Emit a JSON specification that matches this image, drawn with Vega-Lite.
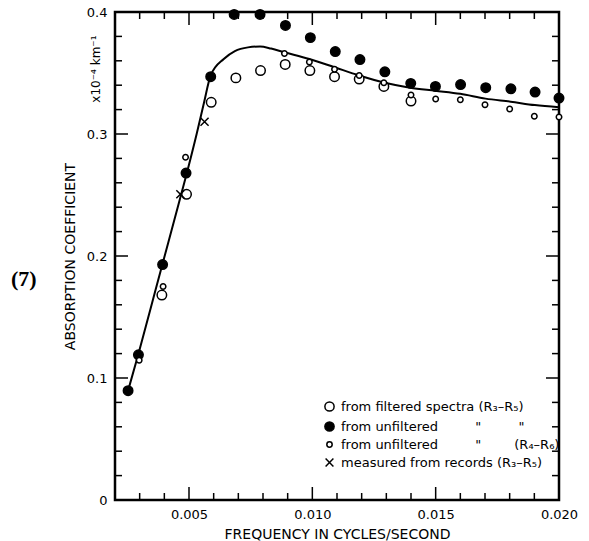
{
  "$schema": "https://vega.github.io/schema/vega-lite/v6.json",
  "width": 444,
  "height": 488,
  "autosize": {"type": "none"},
  "padding": {"left": 115, "top": 12, "right": 30, "bottom": 41},
  "title": {"text": "(7)", "orient": "left", "angle": 0, "align": "right", "baseline": "middle", "anchor": "middle", "font": "Liberation Serif", "fontSize": 22, "fontWeight": "bold", "color": "black", "offset": 1, "dy": 23},
  "config": {
    "view": {"stroke": "black", "strokeWidth": 2.5},
    "axis": {"domain": false, "grid": false, "labelFont": "DejaVu Sans", "labelFontSize": 13, "labelColor": "black", "titleFont": "DejaVu Sans", "titleFontSize": 14, "titleFontWeight": "normal", "titleColor": "black", "labelFlush": false},
    "legend": {"labelFont": "DejaVu Sans", "labelFontSize": 13, "labelColor": "black", "rowPadding": 3, "labelOffset": 5, "labelLimit": 400, "symbolSize": 85}
  },
  "datasets": {
    "curve": [
      {"f": 0.00253, "v": 0.0896}, {"f": 0.00294, "v": 0.119}, {"f": 0.00343, "v": 0.156}, {"f": 0.00392, "v": 0.193},
      {"f": 0.00441, "v": 0.230}, {"f": 0.0049, "v": 0.267}, {"f": 0.00531, "v": 0.300}, {"f": 0.0056, "v": 0.325},
      {"f": 0.00588, "v": 0.348}, {"f": 0.00641, "v": 0.3615}, {"f": 0.00686, "v": 0.368}, {"f": 0.00739, "v": 0.371},
      {"f": 0.00788, "v": 0.3717}, {"f": 0.00833, "v": 0.370}, {"f": 0.00887, "v": 0.367}, {"f": 0.00988, "v": 0.3615},
      {"f": 0.0109, "v": 0.3547}, {"f": 0.0119, "v": 0.348}, {"f": 0.01294, "v": 0.342}, {"f": 0.01396, "v": 0.338},
      {"f": 0.01498, "v": 0.3355}, {"f": 0.016, "v": 0.333}, {"f": 0.01702, "v": 0.329}, {"f": 0.01804, "v": 0.3265},
      {"f": 0.01902, "v": 0.3237}, {"f": 0.02, "v": 0.322}
    ],
    "pts": [
      {"s": "a", "f": 0.0039, "v": 0.168}, {"s": "a", "f": 0.0049, "v": 0.2506}, {"s": "a", "f": 0.0059, "v": 0.326},
      {"s": "a", "f": 0.0069, "v": 0.346}, {"s": "a", "f": 0.0079, "v": 0.352}, {"s": "a", "f": 0.0089, "v": 0.357},
      {"s": "a", "f": 0.0099, "v": 0.352}, {"s": "a", "f": 0.0109, "v": 0.347}, {"s": "a", "f": 0.0119, "v": 0.345},
      {"s": "a", "f": 0.0129, "v": 0.339}, {"s": "a", "f": 0.014, "v": 0.327},
      {"s": "b", "f": 0.00253, "v": 0.0896}, {"s": "b", "f": 0.00295, "v": 0.119}, {"s": "b", "f": 0.00393, "v": 0.193},
      {"s": "b", "f": 0.00488, "v": 0.268}, {"s": "b", "f": 0.00588, "v": 0.347}, {"s": "b", "f": 0.00683, "v": 0.398},
      {"s": "b", "f": 0.00788, "v": 0.398}, {"s": "b", "f": 0.00891, "v": 0.389}, {"s": "b", "f": 0.00992, "v": 0.379},
      {"s": "b", "f": 0.01093, "v": 0.3676}, {"s": "b", "f": 0.01193, "v": 0.361}, {"s": "b", "f": 0.01294, "v": 0.351},
      {"s": "b", "f": 0.01399, "v": 0.3415}, {"s": "b", "f": 0.01499, "v": 0.339}, {"s": "b", "f": 0.01601, "v": 0.3405},
      {"s": "b", "f": 0.01703, "v": 0.338}, {"s": "b", "f": 0.01805, "v": 0.337}, {"s": "b", "f": 0.01903, "v": 0.3344},
      {"s": "b", "f": 0.02, "v": 0.3295},
      {"s": "c", "f": 0.00298, "v": 0.1145}, {"s": "c", "f": 0.00395, "v": 0.175}, {"s": "c", "f": 0.00486, "v": 0.281},
      {"s": "c", "f": 0.00887, "v": 0.366}, {"s": "c", "f": 0.00988, "v": 0.359}, {"s": "c", "f": 0.0109, "v": 0.353},
      {"s": "c", "f": 0.0119, "v": 0.348}, {"s": "c", "f": 0.0129, "v": 0.342}, {"s": "c", "f": 0.014, "v": 0.332},
      {"s": "c", "f": 0.015, "v": 0.3287}, {"s": "c", "f": 0.016, "v": 0.328}, {"s": "c", "f": 0.017, "v": 0.324},
      {"s": "c", "f": 0.018, "v": 0.3205}, {"s": "c", "f": 0.019, "v": 0.3145}, {"s": "c", "f": 0.02, "v": 0.314},
      {"s": "d", "f": 0.00465, "v": 0.2506}, {"s": "d", "f": 0.00563, "v": 0.31}
    ],
    "ticks": [
      {"ax": "x", "k": "minor", "t": 0.003}, {"ax": "x", "k": "minor", "t": 0.004}, {"ax": "x", "k": "major", "t": 0.005},
      {"ax": "x", "k": "minor", "t": 0.006}, {"ax": "x", "k": "minor", "t": 0.007}, {"ax": "x", "k": "minor", "t": 0.008},
      {"ax": "x", "k": "minor", "t": 0.009}, {"ax": "x", "k": "major", "t": 0.010}, {"ax": "x", "k": "minor", "t": 0.011},
      {"ax": "x", "k": "minor", "t": 0.012}, {"ax": "x", "k": "minor", "t": 0.013}, {"ax": "x", "k": "minor", "t": 0.014},
      {"ax": "x", "k": "major", "t": 0.015}, {"ax": "x", "k": "minor", "t": 0.016}, {"ax": "x", "k": "minor", "t": 0.017},
      {"ax": "x", "k": "minor", "t": 0.018}, {"ax": "x", "k": "minor", "t": 0.019},
      {"ax": "y", "k": "minor", "t": 0.02}, {"ax": "y", "k": "minor", "t": 0.04}, {"ax": "y", "k": "minor", "t": 0.06},
      {"ax": "y", "k": "minor", "t": 0.08}, {"ax": "y", "k": "major", "t": 0.1}, {"ax": "y", "k": "minor", "t": 0.12},
      {"ax": "y", "k": "minor", "t": 0.14}, {"ax": "y", "k": "minor", "t": 0.16}, {"ax": "y", "k": "minor", "t": 0.18},
      {"ax": "y", "k": "major", "t": 0.2}, {"ax": "y", "k": "minor", "t": 0.22}, {"ax": "y", "k": "minor", "t": 0.24},
      {"ax": "y", "k": "minor", "t": 0.26}, {"ax": "y", "k": "minor", "t": 0.28}, {"ax": "y", "k": "major", "t": 0.3},
      {"ax": "y", "k": "minor", "t": 0.32}, {"ax": "y", "k": "minor", "t": 0.34}, {"ax": "y", "k": "minor", "t": 0.36},
      {"ax": "y", "k": "minor", "t": 0.38}
    ]
  },
  "resolve": {"axis": {"x": "independent", "y": "independent"}},
  "layer": [
    {
      "data": {"name": "ticks"},
      "transform": [{"filter": "datum.ax == 'x' && datum.k == 'major'"}],
      "mark": {"type": "rule", "color": "black", "strokeWidth": 1.5, "y2Offset": -13},
      "encoding": {
        "x": {"field": "t", "type": "quantitative", "scale": {"domain": [0.002, 0.02], "nice": false, "zero": false}, "axis": null},
        "y": {"datum": 0, "type": "quantitative", "scale": {"domain": [0, 0.4], "nice": false, "zero": false}, "axis": null},
        "y2": {"datum": 0}
      }
    },
    {
      "data": {"name": "ticks"},
      "transform": [{"filter": "datum.ax == 'x' && datum.k == 'minor'"}],
      "mark": {"type": "rule", "color": "black", "strokeWidth": 1.5, "y2Offset": -7},
      "encoding": {
        "x": {"field": "t", "type": "quantitative", "axis": null},
        "y": {"datum": 0, "type": "quantitative", "axis": null},
        "y2": {"datum": 0}
      }
    },
    {
      "data": {"name": "ticks"},
      "transform": [{"filter": "datum.ax == 'x' && datum.k == 'major'"}],
      "mark": {"type": "rule", "color": "black", "strokeWidth": 1.5, "y2Offset": 13},
      "encoding": {
        "x": {"field": "t", "type": "quantitative", "axis": null},
        "y": {"datum": 0.4, "type": "quantitative", "axis": null},
        "y2": {"datum": 0.4}
      }
    },
    {
      "data": {"name": "ticks"},
      "transform": [{"filter": "datum.ax == 'x' && datum.k == 'minor'"}],
      "mark": {"type": "rule", "color": "black", "strokeWidth": 1.5, "y2Offset": 7},
      "encoding": {
        "x": {"field": "t", "type": "quantitative", "axis": null},
        "y": {"datum": 0.4, "type": "quantitative", "axis": null},
        "y2": {"datum": 0.4}
      }
    },
    {
      "data": {"name": "ticks"},
      "transform": [{"filter": "datum.ax == 'y' && datum.k == 'major'"}],
      "mark": {"type": "rule", "color": "black", "strokeWidth": 1.5, "x2Offset": 13},
      "encoding": {
        "y": {"field": "t", "type": "quantitative", "axis": null},
        "x": {"datum": 0.002, "type": "quantitative", "axis": null},
        "x2": {"datum": 0.002}
      }
    },
    {
      "data": {"name": "ticks"},
      "transform": [{"filter": "datum.ax == 'y' && datum.k == 'minor'"}],
      "mark": {"type": "rule", "color": "black", "strokeWidth": 1.5, "x2Offset": 7},
      "encoding": {
        "y": {"field": "t", "type": "quantitative", "axis": null},
        "x": {"datum": 0.002, "type": "quantitative", "axis": null},
        "x2": {"datum": 0.002}
      }
    },
    {
      "data": {"name": "ticks"},
      "transform": [{"filter": "datum.ax == 'y' && datum.k == 'major'"}],
      "mark": {"type": "rule", "color": "black", "strokeWidth": 1.5, "x2Offset": -13},
      "encoding": {
        "y": {"field": "t", "type": "quantitative", "axis": null},
        "x": {"datum": 0.02, "type": "quantitative", "axis": null},
        "x2": {"datum": 0.02}
      }
    },
    {
      "data": {"name": "ticks"},
      "transform": [{"filter": "datum.ax == 'y' && datum.k == 'minor'"}],
      "mark": {"type": "rule", "color": "black", "strokeWidth": 1.5, "x2Offset": -7},
      "encoding": {
        "y": {"field": "t", "type": "quantitative", "axis": null},
        "x": {"datum": 0.02, "type": "quantitative", "axis": null},
        "x2": {"datum": 0.02}
      }
    },
    {
      "data": {"name": "curve"},
      "mark": {"type": "line", "color": "black", "strokeWidth": 2, "interpolate": "monotone"},
      "encoding": {
        "x": {"field": "f", "type": "quantitative",
          "axis": {"orient": "bottom", "values": [0.005, 0.01, 0.015, 0.02], "ticks": false, "labelPadding": 8, "format": ".3f", "title": "FREQUENCY IN CYCLES/SECOND", "titlePadding": 6}},
        "y": {"field": "v", "type": "quantitative",
          "axis": {"orient": "left", "values": [0, 0.1, 0.2, 0.3, 0.4], "ticks": false, "labelPadding": 8, "labelExpr": "datum.value == 0 ? '0' : format(datum.value, '.1f')", "title": "ABSORPTION COEFFICIENT", "titlePadding": 9}}
      }
    },
    {
      "data": {"name": "pts"},
      "mark": {"type": "point", "stroke": "black", "strokeWidth": 1.5, "opacity": 1, "size": 90},
      "encoding": {
        "x": {"field": "f", "type": "quantitative", "axis": null},
        "y": {"field": "v", "type": "quantitative", "axis": null},
        "shape": {"field": "s", "type": "nominal", "scale": {"domain": ["a", "b", "c", "d"], "range": ["circle", "circle", "M0,-0.58A0.58,0.58,0,1,1,0,0.58A0.58,0.58,0,1,1,0,-0.58Z", "M-0.85,-0.85L0.85,0.85M0.85,-0.85L-0.85,0.85"]},
          "legend": {"title": null, "orient": "none", "legendX": 208, "legendY": 388,
            "encode": {"symbols": {"update": {"stroke": {"value": "black"}, "strokeWidth": {"value": 1.5}, "fill": {"signal": "datum.value == 'b' ? 'black' : 'white'"}}}},
            "labelExpr": "datum.value == 'a' ? 'from filtered spectra (R₃–R₅)' : datum.value == 'b' ? 'from unfiltered\u00a0\u00a0\u00a0\u00a0\u00a0\u00a0\u00a0\u00a0\u00a0\"\u00a0\u00a0\u00a0\u00a0\u00a0\u00a0\u00a0\u00a0\u00a0\"' : datum.value == 'c' ? 'from unfiltered\u00a0\u00a0\u00a0\u00a0\u00a0\u00a0\u00a0\u00a0\u00a0\"\u00a0\u00a0\u00a0\u00a0\u00a0\u00a0\u00a0\u00a0(R₄–R₆)' : 'measured from records (R₃–R₅)'"}},
        "fill": {"field": "s", "type": "nominal", "scale": {"domain": ["a", "b", "c", "d"], "range": ["white", "black", "white", "transparent"]}, "legend": null}
      }
    },
    {
      "data": {"name": "curve"},
      "mark": {"type": "point", "opacity": 0},
      "encoding": {
        "x": {"field": "f", "type": "quantitative", "axis": null},
        "y": {"field": "v", "type": "quantitative",
          "axis": {"orient": "left", "ticks": false, "labels": false, "title": "x10⁻⁴ km⁻¹", "titleFontSize": 12, "titleX": -13, "titleY": 23, "titleAngle": 270, "titleAlign": "right", "titleBaseline": "bottom"}}
      }
    }
  ]
}
